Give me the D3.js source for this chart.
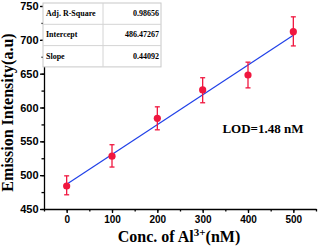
<!DOCTYPE html>
<html>
<head>
<meta charset="utf-8">
<script src="https://cdn.jsdelivr.net/npm/d3@7"></script>
<style>
  body { margin: 0; background: #fff; }
  svg { display: block; }
</style>
</head>
<body>
<div id="chart"></div>
<script>
// concentrations (nM), mean intensity and error bar ends
var conc = [0, 100, 200, 300, 400, 500];
var intensity = [484, 528, 584, 626, 648, 712];
var errLow = [471, 512, 567, 607, 629, 691];
var errHigh = [499, 545, 601, 644, 667, 734];

// linear fit shown in the inset table
var fitRows = [
  { name: 'Adj. R-Square', value: '0.98656' },
  { name: 'Intercept', value: '486.47267' },
  { name: 'Slope', value: '0.44092' }
];
var intercept = 486.47267, slope = 0.44092;

var yTicks = [450, 500, 550, 600, 650, 700, 750];
var xTicks = [0, 100, 200, 300, 400, 500];

const width = 319, height = 248;
const margin = { top: 6, right: 3, bottom: 39, left: 44 };

const svg = d3.select('#chart')
  .append('svg')
  .attr('width', width)
  .attr('height', height);

const xScale = d3.scaleLinear()
  .domain([-50, 550])
  .range([margin.left, width - margin.right]);

const yScale = d3.scaleLinear()
  .domain([450, 750])
  .range([height - margin.bottom, margin.top]);

// minor ticks first so major ones sit on top
svg.append('g')
  .attr('transform', `translate(0, ${yScale(450)})`)
  .call(d3.axisBottom(xScale).tickValues(d3.range(-50, 551, 50)).tickSize(2.5).tickFormat(''))
  .call(g => g.select('.domain').remove());

svg.append('g')
  .attr('transform', `translate(${xScale(-50)}, 0)`)
  .call(d3.axisLeft(yScale).tickValues(d3.range(450, 751, 25)).tickSize(2.5).tickFormat(''))
  .call(g => g.select('.domain').remove());

const xAxis = svg.append('g')
  .attr('class', 'x-axis')
  .attr('transform', `translate(0, ${yScale(450)})`)
  .call(d3.axisBottom(xScale).tickValues(xTicks).tickSize(4).tickSizeOuter(0).tickPadding(3));

const yAxis = svg.append('g')
  .attr('class', 'y-axis')
  .attr('transform', `translate(${xScale(-50)}, 0)`)
  .call(d3.axisLeft(yScale).tickValues(yTicks).tickSize(4).tickSizeOuter(0).tickPadding(1.5));

svg.selectAll('.domain, .tick line')
  .attr('stroke', '#000')
  .attr('stroke-width', 1.3);

svg.selectAll('.tick text')
  .attr('font-family', 'Liberation Sans, Arial, sans-serif')
  .attr('font-weight', 'bold')
  .attr('fill', '#000');
xAxis.selectAll('.tick text').attr('font-size', 10);
yAxis.selectAll('.tick text').attr('font-size', 11);

// fitted line
svg.append('line')
  .attr('x1', xScale(0))
  .attr('y1', yScale(intercept))
  .attr('x2', xScale(500))
  .attr('y2', yScale(intercept + slope * 500))
  .attr('stroke', '#2040e8')
  .attr('stroke-width', 1.2);

const red = '#f0173f';
const pts = svg.append('g');
conc.forEach(function(c, i) {
  const x = xScale(c);
  pts.append('line')
    .attr('x1', x).attr('x2', x)
    .attr('y1', yScale(errLow[i])).attr('y2', yScale(errHigh[i]))
    .attr('stroke', red).attr('stroke-width', 1.3);
  [errLow[i], errHigh[i]].forEach(function(v) {
    pts.append('line')
      .attr('x1', x - 2.5).attr('x2', x + 2.5)
      .attr('y1', yScale(v)).attr('y2', yScale(v))
      .attr('stroke', red).attr('stroke-width', 1.3);
  });
  pts.append('circle')
    .attr('cx', x).attr('cy', yScale(intensity[i]))
    .attr('r', 3.6)
    .attr('fill', red);
});

// inset table
const tx = 43, ty = 3, tw = 118, rowH = 21.3, colX = 103;
const table = svg.append('g');
table.append('rect')
  .attr('x', tx).attr('y', ty)
  .attr('width', tw).attr('height', rowH * fitRows.length)
  .attr('fill', '#fff')
  .attr('stroke', '#c8c8c8');
fitRows.forEach(function(r, i) {
  const y = ty + i * rowH;
  if (i > 0) {
    table.append('line')
      .attr('x1', tx).attr('x2', tx + tw)
      .attr('y1', y).attr('y2', y)
      .attr('stroke', '#d4d4d4');
  }
  table.append('text')
    .attr('x', tx + 3).attr('y', y + rowH / 2 + 2.5)
    .attr('font-family', 'Liberation Serif, Times New Roman, serif')
    .attr('font-weight', 'bold')
    .attr('font-size', 8)
    .text(r.name);
  table.append('text')
    .attr('x', tx + tw - 2).attr('y', y + rowH / 2 + 2.5)
    .attr('text-anchor', 'end')
    .attr('font-family', 'Liberation Serif, Times New Roman, serif')
    .attr('font-weight', 'bold')
    .attr('font-size', 8)
    .text(r.value);
});
table.append('line')
  .attr('x1', colX).attr('x2', colX)
  .attr('y1', ty).attr('y2', ty + rowH * fitRows.length)
  .attr('stroke', '#d4d4d4');

// annotation
svg.append('text')
  .attr('x', 263).attr('y', 133)
  .attr('text-anchor', 'middle')
  .attr('font-family', 'Liberation Serif, Times New Roman, serif')
  .attr('font-weight', 'bold')
  .attr('font-size', 13)
  .text('LOD=1.48 nM');

// axis titles
svg.append('text')
  .attr('transform', `translate(12.5, 112.5) rotate(-90)`)
  .attr('text-anchor', 'middle')
  .attr('font-family', 'Liberation Serif, Times New Roman, serif')
  .attr('font-weight', 'bold')
  .attr('font-size', 16)
  .text('Emission Intensity(a.u)');

const xt = svg.append('text')
  .attr('x', 179).attr('y', 242)
  .attr('text-anchor', 'middle')
  .attr('font-family', 'Liberation Serif, Times New Roman, serif')
  .attr('font-weight', 'bold')
  .attr('font-size', 16);
xt.append('tspan').text('Conc. of Al');
xt.append('tspan').attr('dy', -6).attr('font-size', 11).text('3+');
xt.append('tspan').attr('dy', 6).text('(nM)');
</script>
</body>
</html>
